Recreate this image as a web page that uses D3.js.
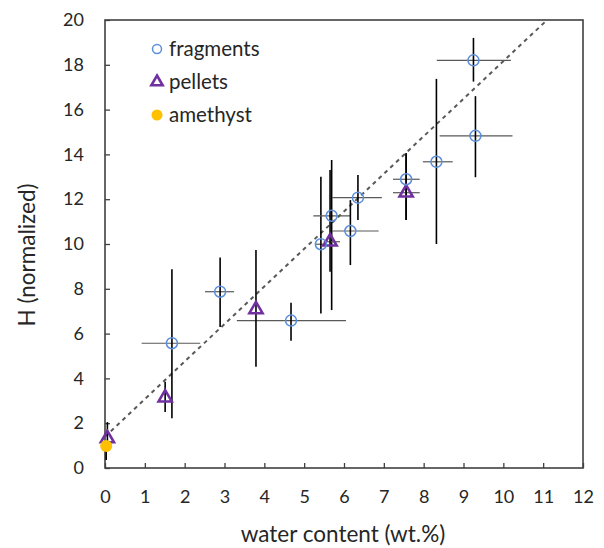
<!DOCTYPE html>
<html lang="en">
<head>
    <meta charset="UTF-8">
    <title>H vs water content</title>
    <script src="https://d3js.org/d3.v7.min.js"></script>
    <style>
        body { margin: 0; background: #fff; }
        svg text { font-family: Lato, "Open Sans", sans-serif; fill: #262626; }
        .tick-label { font-size: 18px; }
        .axis-title { font-size: 22.5px; }
        .legend-label { font-size: 20.5px; }
    </style>
</head>
<body>
    <svg id="chart"></svg>

    <script>
        // fragments
        const fragX   = [1.68, 2.89, 4.67, 5.42, 5.69, 6.16, 6.35, 7.56, 8.32, 9.25, 9.30];
        const fragY   = [5.57, 7.87, 6.58, 9.99, 11.26, 10.58, 12.07, 12.89, 13.67, 18.2, 14.83];
        const fragXLo = [0.92, 2.51, 3.31, 5.28, 5.23, 5.70, 5.70, 7.23, 7.98, 8.33, 8.40];
        const fragXHi = [2.39, 3.24, 6.05, 5.57, 6.16, 6.87, 6.95, 7.90, 8.73, 10.19, 10.23];
        const fragYLo = [2.22, 6.30, 5.68, 6.90, 7.05, 9.06, 11.07, 11.07, 10.0, 17.25, 12.98];
        const fragYHi = [8.87, 9.40, 7.38, 13.0, 13.75, 11.96, 13.08, 14.05, 17.37, 19.2, 16.6];

        // pellets
        const pelX   = [0.06, 1.51, 3.79, 5.65, 7.56];
        const pelY   = [1.32, 3.14, 7.08, 10.1, 12.29];
        const pelXLo = [0.06, 1.51, 3.79, 5.49, 7.23];
        const pelXHi = [0.06, 1.51, 3.79, 5.90, 7.90];
        const pelYLo = [1.10, 2.50, 4.52, 8.76, 11.07];
        const pelYHi = [2.05, 3.85, 9.73, 13.3, 14.05];

        // amethyst
        const ameX   = [0.03];
        const ameY   = [0.98];
        const ameYLo = [0.36];
        const ameYHi = [0.98];

        // dashed trend line
        const fitIntercept = 1.4;
        const fitSlope = 1.676;
        const fitXRange = [0, 11.1];

        const xTicks = d3.range(0, 13, 1);
        const yTicks = d3.range(0, 21, 2);

        const width = 604, height = 548;
        const margin = { top: 20, right: 21, bottom: 80, left: 105 };

        const svg = d3.select("#chart")
            .attr("width", width)
            .attr("height", height);

        const x = d3.scaleLinear().domain([0, 12]).range([margin.left, width - margin.right]);
        const y = d3.scaleLinear().domain([0, 20]).range([height - margin.bottom, margin.top]);

        const frameColor = "#404040";

        // axes with inward ticks
        const xAxis = svg.append("g")
            .attr("transform", `translate(0,${y(0)})`)
            .call(d3.axisBottom(x).tickValues(xTicks).tickSizeInner(-5).tickSizeOuter(0).tickPadding(22));
        const yAxis = svg.append("g")
            .attr("transform", `translate(${x(0)},0)`)
            .call(d3.axisLeft(y).tickValues(yTicks).tickSizeInner(-5).tickSizeOuter(0).tickPadding(21));

        [xAxis, yAxis].forEach(g => {
            g.select(".domain").remove();
            g.selectAll(".tick line").attr("stroke", frameColor).attr("stroke-width", 1.3);
            g.selectAll(".tick text").attr("class", "tick-label").attr("fill", "#262626");
        });

        // frame
        svg.append("rect")
            .attr("x", x(0)).attr("y", y(20))
            .attr("width", x(12) - x(0)).attr("height", y(0) - y(20))
            .attr("fill", "none")
            .attr("stroke", frameColor)
            .attr("stroke-width", 1.6);

        // axis titles
        svg.append("text")
            .attr("class", "axis-title")
            .attr("x", 343)
            .attr("y", 542)
            .attr("text-anchor", "middle")
            .text("water content (wt.%)");

        svg.append("text")
            .attr("class", "axis-title")
            .attr("transform", `translate(35,255) rotate(-90)`)
            .attr("text-anchor", "middle")
            .text("H (normalized)");

        // trend line
        svg.append("line")
            .attr("x1", x(fitXRange[0])).attr("y1", y(fitIntercept + fitSlope * fitXRange[0]))
            .attr("x2", x(fitXRange[1])).attr("y2", y(fitIntercept + fitSlope * fitXRange[1]))
            .attr("stroke", "#595959")
            .attr("stroke-width", 2)
            .attr("stroke-dasharray", "4,4");

        // error bars
        function errorBars(xs, ys, xlo, xhi, ylo, yhi) {
            const g = svg.append("g");
            xs.forEach((xv, i) => {
                if (xlo && xhi[i] > xlo[i]) {
                    g.append("line")
                        .attr("x1", x(xlo[i])).attr("x2", x(xhi[i]))
                        .attr("y1", y(ys[i])).attr("y2", y(ys[i]))
                        .attr("stroke", "#595959").attr("stroke-width", 1.2);
                }
                if (yhi[i] > ylo[i]) {
                    g.append("line")
                        .attr("x1", x(xv)).attr("x2", x(xv))
                        .attr("y1", y(ylo[i])).attr("y2", y(yhi[i]))
                        .attr("stroke", "#000").attr("stroke-width", 1.6);
                }
            });
        }
        errorBars(fragX, fragY, fragXLo, fragXHi, fragYLo, fragYHi);
        errorBars(pelX, pelY, pelXLo, pelXHi, pelYLo, pelYHi);
        errorBars(ameX, ameY, null, null, ameYLo, ameYHi);

        const fragColor = "#5B8FDB";
        const pelColor = "#7030A0";
        const ameColor = "#FFC000";

        const triangle = d3.symbol().type(d3.symbolTriangle).size(75);

        // markers
        svg.append("g").selectAll("path")
            .data(pelX.map((v, i) => [v, pelY[i]]))
            .join("path")
            .attr("d", triangle)
            .attr("transform", d => `translate(${x(d[0])},${y(d[1])})`)
            .attr("fill", "none")
            .attr("stroke", pelColor)
            .attr("stroke-width", 2.6);

        svg.append("g").selectAll("circle")
            .data(fragX.map((v, i) => [v, fragY[i]]))
            .join("circle")
            .attr("cx", d => x(d[0])).attr("cy", d => y(d[1]))
            .attr("r", 5.5)
            .attr("fill", "none")
            .attr("stroke", fragColor)
            .attr("stroke-width", 1.5);

        svg.append("g").selectAll("circle")
            .data(ameX.map((v, i) => [v, ameY[i]]))
            .join("circle")
            .attr("cx", d => x(d[0])).attr("cy", d => y(d[1]))
            .attr("r", 6)
            .attr("fill", ameColor);

        // legend
        const legendTri = d3.symbol().type(d3.symbolTriangle).size(55);
        const legend = svg.append("g").attr("transform", "translate(157,49)");
        legend.append("circle").attr("r", 4.5).attr("fill", "none")
            .attr("stroke", fragColor).attr("stroke-width", 1.5);
        legend.append("path").attr("d", legendTri).attr("transform", "translate(0,33)")
            .attr("fill", "none").attr("stroke", pelColor).attr("stroke-width", 2.6);
        legend.append("circle").attr("cy", 66).attr("r", 5.5).attr("fill", ameColor);
        ["fragments", "pellets", "amethyst"].forEach((t, i) => {
            legend.append("text")
                .attr("class", "legend-label")
                .attr("x", 12).attr("y", i * 33)
                .attr("dy", "0.35em")
                .text(t);
        });
    </script>
</body>
</html>
